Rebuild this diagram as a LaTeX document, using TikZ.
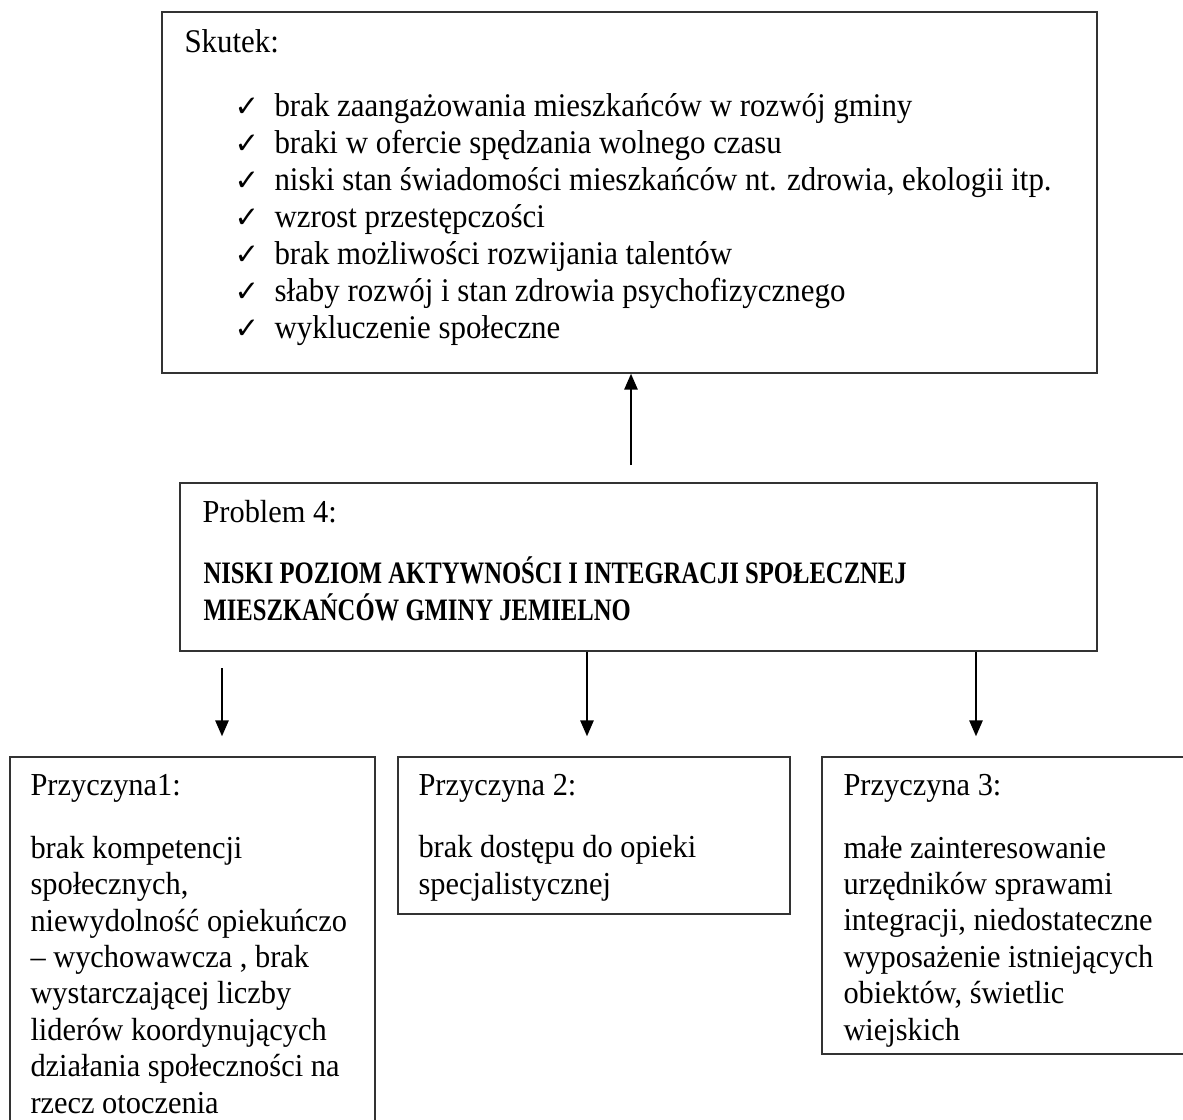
\documentclass[tikz,border=0pt]{standalone}
\usepackage{fontspec}
\setmainfont{Liberation Serif}[FakeStretch=0.95]
\newfontfamily\skfont{Liberation Serif}[FakeStretch=0.935]
\newfontfamily\symfont{DejaVu Sans}
\newfontfamily\bcond{Liberation Serif}[FakeStretch=0.79]
\usetikzlibrary{arrows.meta,fit}
\tikzset{
  box/.style={draw=black!80, line width=0.55pt, rectangle, inner sep=0pt},
  txt/.style={anchor=base west, inner sep=0pt, align=left, font=\fontsize{12pt}{13.65pt}\selectfont},
  sktxt/.style={anchor=base west, inner sep=0pt, align=left, font=\fontsize{12.4pt}{13.875pt}\skfont},
  arr/.style={draw=black, line width=0.75pt, -{Triangle[width=5pt,length=6pt]}},
}
\newcommand{\ck}{{\symfont\bfseries\fontsize{11pt}{13.875pt}\selectfont ✓}}
\begin{document}
\begin{tikzpicture}[x=0.375pt,y=-0.375pt]
\useasboundingbox (0,0) rectangle (1183,1119);
\clip (0,0) rectangle (1183,1119);
\fill[white] (0,0) rectangle (1183,1119);
% boxes
\node[box, fit={(162,12) (1097,373)}] (skutek) {};
\node[box, fit={(180,483) (1097,651)}] (problem) {};
\node[box, fit={(10,757) (375,1135)}] (p1) {};
\node[box, fit={(398,757) (790,914)}] (p2) {};
\node[box, fit={(822,757) (1195,1054)}] (p3) {};
% Skutek text (anchor = baseline of last line)
\node[sktxt] (sk) at (184,52) {Skutek:};
\node[sktxt] (skl) at (234,338) {\ck\\\ck\\\ck\\\ck\\\ck\\\ck\\\ck};
\node[sktxt] (skt) at (274,338) {brak zaangażowania mieszkańców w rozwój gminy\\braki w ofercie spędzania wolnego czasu\\niski stan świadomości mieszkańców nt. zdrowia, ekologii itp.\\wzrost przestępczości\\brak możliwości rozwijania talentów\\słaby rozwój i stan zdrowia psychofizycznego\\wykluczenie społeczne};
% Problem
\node[txt] (pr) at (202,522) {Problem 4:};
\node[txt, font=\fontsize{11.7pt}{13.875pt}\bcond\bfseries] (prt) at (203,620) {NISKI POZIOM AKTYWNOŚCI I INTEGRACJI SPOŁECZNEJ\\MIESZKAŃCÓW GMINY JEMIELNO};
% Przyczyny
\node[txt] (h1) at (30,795) {Przyczyna1:};
\node[txt] (t1) at (30,1113) {brak kompetencji\\społecznych,\\niewydolność opiekuńczo\\– wychowawcza , brak\\wystarczającej liczby\\liderów koordynujących\\działania społeczności na\\rzecz otoczenia};
\node[txt] (h2) at (418,795) {Przyczyna 2:};
\node[txt] (t2) at (418,894) {brak dostępu do opieki\\specjalistycznej};
\node[txt] (h3) at (843,795) {Przyczyna 3:};
\node[txt] (t3) at (843,1040) {małe zainteresowanie\\urzędników sprawami\\integracji, niedostateczne\\wyposażenie istniejących\\obiektów, świetlic\\wiejskich};
% arrows
\coordinate (up0) at (631,465);
\coordinate (d1) at (222,668);
\coordinate (d2) at (587,0);
\coordinate (d3) at (976,0);
\draw[arr] (up0) -- (up0 |- skutek.south);
\draw[arr, shorten >=7.5pt] (d1) -- (d1 |- p1.north);
\draw[arr, shorten >=7.5pt] (d2 |- problem.south) -- (d2 |- p2.north);
\draw[arr, shorten >=7.5pt] (d3 |- problem.south) -- (d3 |- p3.north);
\end{tikzpicture}
\end{document}
